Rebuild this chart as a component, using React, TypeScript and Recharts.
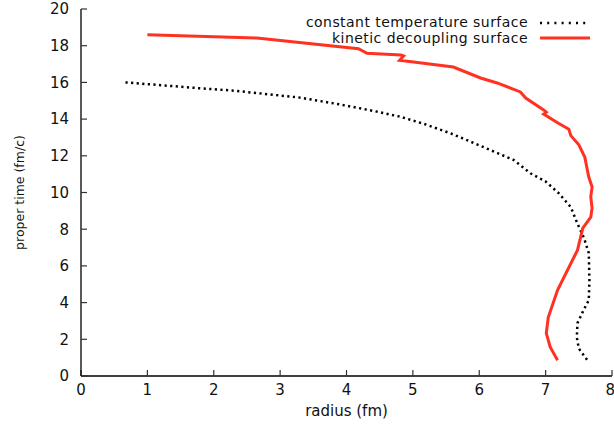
import React from 'react';
import { LineChart, Line, XAxis, YAxis } from 'recharts';

const xTicks = [0, 1, 2, 3, 4, 5, 6, 7, 8];
const yTicks = [0, 2, 4, 6, 8, 10, 12, 14, 16, 18, 20];

const seriesNames = ['constant temperature surface', 'kinetic decoupling surface'];

const tempRadius = [0.67, 1.2, 1.79, 2.3, 2.64, 3.3, 3.9, 4.4, 4.81, 5.2, 5.57, 5.85, 6.17, 6.52, 6.77, 7.0, 7.2, 7.38, 7.48, 7.58, 7.65, 7.66, 7.65, 7.57, 7.48, 7.47, 7.5, 7.63];
const tempTime = [16.0, 15.85, 15.68, 15.55, 15.42, 15.17, 14.8, 14.45, 14.13, 13.7, 13.22, 12.8, 12.31, 11.77, 11.05, 10.6, 9.95, 9.2, 8.3, 7.5, 6.7, 5.2, 4.13, 3.58, 2.88, 2.1, 1.5, 0.86];

const decRadius = [1.0, 2.65, 4.18, 4.31, 4.82, 4.86, 4.8, 4.92, 5.61, 6.02, 6.27, 6.62, 6.7, 6.97, 7.01, 6.97, 7.18, 7.35, 7.38, 7.5, 7.59, 7.65, 7.7, 7.68, 7.7, 7.68, 7.56, 7.48, 7.18, 7.04, 7.01, 7.07, 7.18];
const decTime = [18.6, 18.42, 17.84, 17.59, 17.49, 17.44, 17.2, 17.15, 16.84, 16.24, 15.97, 15.48, 15.15, 14.5, 14.38, 14.27, 13.8, 13.45, 13.1, 12.6, 11.93, 10.84, 10.3, 9.76, 9.15, 8.66, 8.06, 6.86, 4.68, 3.2, 2.33, 1.57, 0.86];

const FONT = 'DejaVu Sans';
const RED = '#ff3222';

const YLabel = (props: any) => {
  const vb = props.viewBox || {};
  const cx = 19.5;
  const cy = (vb.y || 0) + (vb.height || 0) / 2;
  return (
    <text
      x={cx}
      y={cy}
      transform={`rotate(-90 ${cx} ${cy})`}
      textAnchor="middle"
      dominantBaseline="central"
      fontFamily={FONT}
      fontSize={12.5}
      fill="#111"
    >
      proper time (fm/c)
    </text>
  );
};

export default function App() {
  const tempData = tempRadius.map((r, i) => ({ r, t: tempTime[i] }));
  const decData = decRadius.map((r, i) => ({ r, t: decTime[i] }));
  const tickStyle = { fontFamily: FONT, fontSize: 15, fill: '#111' };

  return (
    <div style={{ position: 'absolute', left: 0, top: 0, width: 614, height: 425, background: '#fff' }}>
      <LineChart width={614} height={425} margin={{ top: 9, right: 2, bottom: 0, left: 0 }}>
        <XAxis
          dataKey="r"
          type="number"
          domain={[0, 8]}
          ticks={xTicks}
          allowDataOverflow
          height={49}
          tickSize={-6}
          tickMargin={14.5}
          tick={tickStyle}
          axisLine={{ stroke: '#000', strokeWidth: 1.3 }}
          tickLine={{ stroke: '#333', strokeWidth: 1.2 }}
          label={{ value: 'radius (fm)', position: 'insideBottom', offset: 9, style: { fontFamily: FONT, fontSize: 15, fill: '#111' } }}
        />
        <XAxis
          xAxisId="top"
          orientation="top"
          type="number"
          dataKey="r"
          domain={[0, 8]}
          ticks={xTicks}
          allowDataOverflow
          height={0}
          tickSize={-6}
          tick={false}
          axisLine={{ stroke: '#000', strokeWidth: 1.3 }}
          tickLine={{ stroke: '#333', strokeWidth: 1.2 }}
        />
        <YAxis
          type="number"
          domain={[0, 20]}
          ticks={yTicks}
          allowDataOverflow
          width={81}
          tickSize={-6}
          tickMargin={18}
          tick={tickStyle}
          axisLine={{ stroke: '#000', strokeWidth: 1.3 }}
          tickLine={{ stroke: '#333', strokeWidth: 1.2 }}
          label={<YLabel />}
        />
        <YAxis
          yAxisId="right"
          orientation="right"
          type="number"
          domain={[0, 20]}
          ticks={yTicks}
          allowDataOverflow
          width={0}
          tickSize={-6}
          tick={false}
          axisLine={{ stroke: '#000', strokeWidth: 1.3 }}
          tickLine={{ stroke: '#333', strokeWidth: 1.2 }}
        />
        <Line
          data={tempData}
          dataKey="t"
          name={seriesNames[0]}
          type="linear"
          stroke="#000"
          strokeWidth={2.5}
          strokeDasharray="2.2 3.4"
          dot={false}
          activeDot={false}
          isAnimationActive={false}
        />
        <Line
          data={decData}
          dataKey="t"
          name={seriesNames[1]}
          type="linear"
          stroke={RED}
          strokeWidth={3}
          dot={false}
          activeDot={false}
          isAnimationActive={false}
        />
      </LineChart>
      <div
        style={{
          position: 'absolute',
          top: 15,
          right: 24,
          fontFamily: FONT,
          fontSize: 14,
          letterSpacing: 0.45,
          lineHeight: '15.5px',
          color: '#111',
        }}
      >
        {seriesNames.map((name, i) => (
          <div key={name} style={{ display: 'flex', alignItems: 'center', justifyContent: 'flex-end', height: 15.5, whiteSpace: 'nowrap' }}>
            <span>{name}</span>
            <svg width={50} height={6} style={{ marginLeft: 12, display: 'block' }}>
              {i === 0 ? (
                <line x1={0} y1={3} x2={50} y2={3} stroke="#000" strokeWidth={2.5} strokeDasharray="2 5.2" />
              ) : (
                <line x1={0} y1={3} x2={50} y2={3} stroke={RED} strokeWidth={3} />
              )}
            </svg>
          </div>
        ))}
      </div>
    </div>
  );
}
